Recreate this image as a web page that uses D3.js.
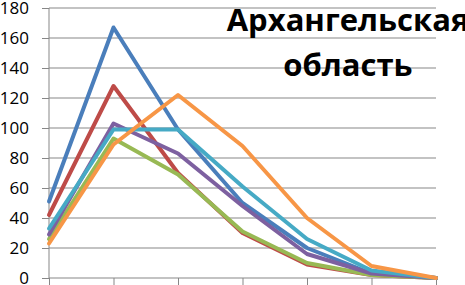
<!DOCTYPE html>
<html>
<head>
<meta charset="utf-8">
<script src="https://cdn.jsdelivr.net/npm/d3@7"></script>
<style>
  body { margin: 0; background: #fff; }
  svg { display: block; }
</style>
</head>
<body>
<div class="canvas"></div>
<script>
// chart data
const categories = [1, 2, 3, 4, 5, 6, 7];
const seriesBlue   = [51, 167, 99, 50, 20, 3, 0];
const seriesRed    = [42, 128, 70, 30, 9, 2, 0];
const seriesGreen  = [26, 93, 69, 31, 10, 2, 0];
const seriesPurple = [29, 103, 83, 48, 16, 3, 0];
const seriesAqua   = [33, 99, 99, 61, 26, 5, 0];
const seriesOrange = [23, 89, 122, 88, 40, 8, 0];
const yTicks = [0, 20, 40, 60, 80, 100, 120, 140, 160, 180];
const titleLines = ['Архангельская', 'область'];

const series = [
    { values: seriesBlue,   color: '#4a7ebb' },
    { values: seriesRed,    color: '#be4b48' },
    { values: seriesGreen,  color: '#98b954' },
    { values: seriesPurple, color: '#7d60a0' },
    { values: seriesAqua,   color: '#46aac5' },
    { values: seriesOrange, color: '#f79646' }
];

const width = 465, height = 285;
const margin = { top: 8, right: 29, bottom: 7, left: 49 };
const graphWidth = width - margin.left - margin.right;
const graphHeight = height - margin.top - margin.bottom;

const svg = d3.select('.canvas')
    .append('svg')
    .attr('width', width)
    .attr('height', height);

const graph = svg.append('g')
    .attr('transform', `translate(${margin.left},${margin.top})`);

const x = d3.scalePoint()
    .domain(categories)
    .range([0, graphWidth]);

const y = d3.scaleLinear()
    .domain([0, 180])
    .range([graphHeight, 0]);

// horizontal gridlines
graph.append('g')
    .selectAll('line')
    .data(yTicks.slice(1))
    .enter()
    .append('line')
    .attr('x1', 0)
    .attr('x2', graphWidth)
    .attr('y1', d => y(d))
    .attr('y2', d => y(d))
    .attr('stroke', '#878787')
    .attr('stroke-width', 1);

// y axis
const yAxisGroup = graph.append('g');
yAxisGroup.call(d3.axisLeft(y).tickValues(yTicks).tickSize(7).tickPadding(13));

// x axis
const xAxisGroup = graph.append('g')
    .attr('transform', `translate(0, ${graphHeight})`);
xAxisGroup.call(d3.axisBottom(x).tickSize(8).tickFormat(''));

svg.selectAll('.domain, .tick line')
    .attr('stroke', '#878787')
    .attr('stroke-width', 1);
yAxisGroup.select('.domain').attr('d', `M0,0V${graphHeight}`);
xAxisGroup.select('.domain').attr('d', `M0,0H${graphWidth}`);

yAxisGroup.selectAll('text')
    .attr('font-family', '"Open Sans", sans-serif')
    .attr('font-size', 17)
    .attr('fill', '#000');

// title (drawn above gridlines, under lines)
const title = svg.append('text')
    .attr('text-anchor', 'middle')
    .attr('font-family', '"Open Sans", sans-serif')
    .attr('font-weight', 'bold')
    .attr('font-size', 31)
    .attr('fill', '#000');
titleLines.forEach((t, i) => {
    title.append('tspan')
        .attr('x', 348)
        .attr('y', 31 + i * 45)
        .text(t);
});

// lines
const line = d3.line()
    .x((d, i) => x(categories[i]))
    .y(d => y(d));

graph.selectAll('path.series')
    .data(series)
    .enter()
    .append('path')
    .attr('class', 'series')
    .attr('d', d => line(d.values))
    .attr('fill', 'none')
    .attr('stroke', d => d.color)
    .attr('stroke-width', 4)
    .attr('stroke-linejoin', 'round')
    .attr('stroke-linecap', 'round');
</script>
</body>
</html>
